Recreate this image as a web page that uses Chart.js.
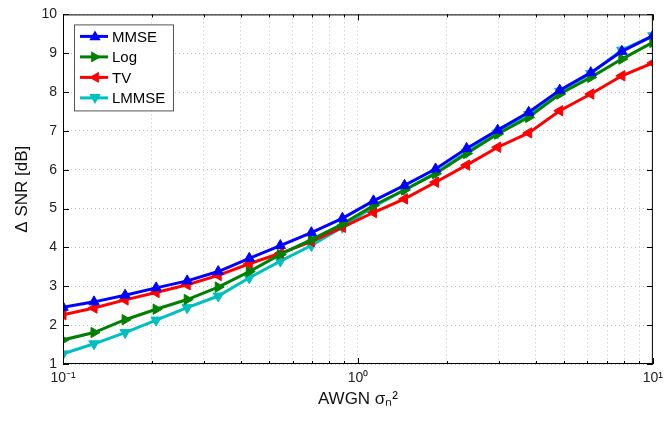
<!DOCTYPE html>
<html>
<head>
<meta charset="utf-8">
<script src="https://cdn.jsdelivr.net/npm/chart.js@4.4.1/dist/chart.umd.min.js"></script>
<style>
  body { margin: 0; background: #fff; }
  #wrap { width: 669px; height: 422px; }
</style>
</head>
<body>
<div id="wrap"><canvas id="snr"></canvas></div>
<script>
/* DATA */
const noiseVar = [0.1, 0.1274, 0.1624, 0.2069, 0.2637, 0.336, 0.4281, 0.5456, 0.6952, 0.8859,
  1.1288, 1.4384, 1.833, 2.3357, 2.9764, 3.7927, 4.8329, 6.1585, 7.8476, 10];

const mmse  = [2.46, 2.6, 2.77, 2.96, 3.14, 3.38, 3.72, 4.05, 4.38, 4.75, 5.2, 5.6, 6.02, 6.55, 7.02, 7.48, 8.05, 8.5, 9.05, 9.45];
const logM  = [1.62, 1.81, 2.14, 2.41, 2.66, 2.98, 3.38, 3.82, 4.2, 4.6, 5.08, 5.48, 5.9, 6.42, 6.92, 7.35, 7.95, 8.38, 8.85, 9.28];
const tv    = [2.27, 2.44, 2.65, 2.84, 3.04, 3.28, 3.58, 3.85, 4.15, 4.52, 4.9, 5.25, 5.68, 6.12, 6.58, 6.95, 7.52, 7.95, 8.42, 8.75];
const lmmse = [1.26, 1.52, 1.81, 2.13, 2.45, 2.75, 3.22, 3.65, 4.05, 4.52, 5.05, 5.48, 5.92, 6.45, 6.95, 7.42, 8.02, 8.48, 9.08, 9.45];

const seriesNames = ["MMSE", "Log", "TV", "LMMSE"];

const xGridTicks = [0.1, 0.2, 0.3, 0.4, 0.5, 0.6, 0.7, 0.8, 0.9, 1, 2, 3, 4, 5, 6, 7, 8, 9, 10];
const xLabelValues = [0.1, 1, 10];
const xLabelTexts = ["10\u207B\u00B9", "10\u2070", "10\u00B9"];

const FONT = "'Liberation Sans', Arial, Helvetica, sans-serif";

function pts(ys) {
  return ys.map((y, i) => ({ x: noiseVar[i], y: y }));
}

function triangle(ctx, x, y, r, rot) {
  ctx.save();
  ctx.translate(x, y);
  ctx.rotate(rot * Math.PI / 180);
  ctx.beginPath();
  ctx.moveTo(0, -r);
  ctx.lineTo(r * 0.95, r * 0.65);
  ctx.lineTo(-r * 0.95, r * 0.65);
  ctx.closePath();
  ctx.fill();
  ctx.restore();
}

/* box, inside tick marks and legend like matlab */
const matlabFrame = {
  id: "matlabFrame",
  afterDraw(chart) {
    const ctx = chart.ctx;
    const a = chart.chartArea;
    const xs = chart.scales.x, ys = chart.scales.y;
    ctx.save();
    ctx.strokeStyle = "#000";
    ctx.lineWidth = 1;
    ctx.strokeRect(a.left + 0.5, a.top + 0.5, a.right - a.left - 1, a.bottom - a.top - 1);
    ctx.beginPath();
    xGridTicks.forEach(v => {
      const px = Math.round(xs.getPixelForValue(v)) + 0.5;
      const len = xLabelValues.includes(v) ? 6 : 3;
      ctx.moveTo(px, a.bottom); ctx.lineTo(px, a.bottom - len);
      ctx.moveTo(px, a.top); ctx.lineTo(px, a.top + len);
    });
    ys.ticks.forEach(t => {
      const py = Math.round(ys.getPixelForValue(t.value)) + 0.5;
      ctx.moveTo(a.left, py); ctx.lineTo(a.left + 6, py);
      ctx.moveTo(a.right, py); ctx.lineTo(a.right - 6, py);
    });
    ctx.stroke();

    // legend
    const lx = a.left + 11, ly = a.top + 10, lw = 99, lh = 86;
    ctx.fillStyle = "#fff";
    ctx.fillRect(lx, ly, lw, lh);
    ctx.strokeStyle = "#555";
    ctx.strokeRect(lx + 0.5, ly + 0.5, lw, lh);
    ctx.font = "15px " + FONT;
    ctx.textBaseline = "middle";
    chart.data.datasets.forEach((ds, i) => {
      const y = ly + 12 + i * 20.5;
      ctx.strokeStyle = ds.borderColor;
      ctx.lineWidth = 3;
      ctx.beginPath();
      ctx.moveTo(lx + 6, y); ctx.lineTo(lx + 34, y);
      ctx.stroke();
      ctx.fillStyle = ds.backgroundColor;
      triangle(ctx, lx + 21, y, 6, ds.pointRotation);
      ctx.fillStyle = "#000";
      ctx.fillText(ds.label, lx + 38, y + 1);
    });
    ctx.restore();
  }
};

function makeSet(label, data, color, rot) {
  return {
    label: label,
    data: pts(data),
    borderColor: color,
    backgroundColor: color,
    borderWidth: 3,
    pointStyle: "triangle",
    pointRotation: rot,
    pointRadius: 6,
    pointBorderWidth: 1,
    tension: 0
  };
}

const ctx = document.getElementById("snr");
new Chart(ctx, {
  type: "line",
  data: {
    datasets: [
      makeSet(seriesNames[0], mmse, "#0000ff", 0),
      makeSet(seriesNames[1], logM, "#008000", 90),
      makeSet(seriesNames[2], tv, "#ff0000", 270),
      makeSet(seriesNames[3], lmmse, "#00bfbf", 180)
    ]
  },
  options: {
    responsive: true,
    maintainAspectRatio: false,
    animation: false,
    layout: {
      padding: { top: 13, right: 8, left: 0, bottom: 0 }
    },
    scales: {
      x: {
        type: "logarithmic",
        min: 0.1,
        max: 10,
        afterBuildTicks: function (scale) {
          scale.ticks = xGridTicks.map(v => ({ value: v }));
        },
        afterFit: function (scale) {
          scale.height = 58;
        },
        ticks: {
          autoSkip: false,
          maxRotation: 0,
          padding: 6,
          color: "#222",
          font: { family: FONT, size: 14 },
          callback: function (value) {
            const k = xLabelValues.findIndex(v => Math.abs(v - value) < 1e-9);
            return k >= 0 ? xLabelTexts[k] : "";
          }
        },
        grid: {
          drawTicks: false,
          color: "#c0c0c0",
          lineWidth: 1
        },
        border: { display: false, dash: [1, 3] },
        title: {
          display: true,
          text: "AWGN \u03C3\u2099\u00B2",
          color: "#111",
          font: { family: FONT, size: 17 },
          padding: { top: 2, bottom: 12 }
        }
      },
      y: {
        min: 1,
        max: 10,
        afterFit: function (scale) {
          scale.width = 63;
        },
        ticks: {
          stepSize: 1,
          padding: 6,
          color: "#222",
          font: { family: FONT, size: 14 }
        },
        grid: {
          drawTicks: false,
          color: "#c0c0c0",
          lineWidth: 1
        },
        border: { display: false, dash: [1, 3] },
        title: {
          display: true,
          text: "\u0394 SNR [dB]",
          color: "#111",
          font: { family: FONT, size: 17 },
          padding: { top: 12, bottom: 0 }
        }
      }
    },
    plugins: {
      legend: { display: false },
      tooltip: { enabled: false }
    }
  },
  plugins: [matlabFrame]
});
</script>
</body>
</html>
